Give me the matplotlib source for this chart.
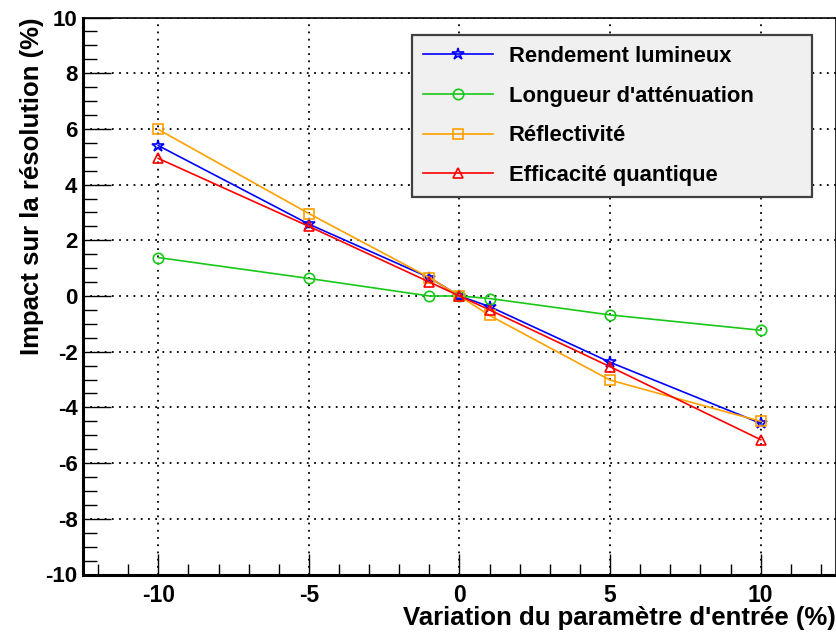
import matplotlib.pyplot as plt
from matplotlib.ticker import MultipleLocator

plt.rcParams['font.family'] = ['Liberation Sans', 'DejaVu Sans']
plt.rcParams['font.weight'] = 'bold'
plt.rcParams['axes.unicode_minus'] = False

# variation of input parameter (%)
variation = [-10, -5, -1, 0, 1, 5, 10]

# impact on resolution (%) for each parameter
rendement = [5.40, 2.58, 0.66, 0.0, -0.38, -2.38, -4.57]
attenuation = [1.38, 0.63, 0.0, 0.0, -0.09, -0.68, -1.23]
reflectivite = [5.98, 2.96, 0.66, 0.0, -0.70, -3.02, -4.50]
efficacite = [4.94, 2.50, 0.50, 0.0, -0.50, -2.54, -5.16]

labels = ["Rendement lumineux", "Longueur d'atténuation", "Réflectivité", "Efficacité quantique"]
colors = ["#0000ff", "#18c818", "#ffa000", "#ff0000"]
markers = ["*", "o", "s", "^"]

fig = plt.figure(figsize=(8.37, 6.34), dpi=100)
ax = fig.add_axes([83/837, 1 - 574.5/634, (836 - 83)/837, (574.5 - 17.5)/634])

series = [rendement, attenuation, reflectivite, efficacite]
for vals, lab, col, mk in zip(series, labels, colors, markers):
    ms = 9 if mk == "*" else 7.5
    ax.plot(variation, vals, color=col, lw=1.2, marker=mk, ms=ms,
            markerfacecolor='none', markeredgecolor=col, markeredgewidth=1.2,
            label=lab)

ax.set_xlim(-12.5, 12.5)
ax.set_ylim(-10, 10)
ax.xaxis.set_major_locator(MultipleLocator(5))
ax.xaxis.set_minor_locator(MultipleLocator(1))
ax.yaxis.set_major_locator(MultipleLocator(2))
ax.yaxis.set_minor_locator(MultipleLocator(0.5))
ax.tick_params(which='both', direction='in', top=False, right=False)
ax.tick_params(axis='x', which='major', length=15, width=1, labelsize=16.5, pad=7)
ax.tick_params(axis='x', which='minor', length=8, width=1)
ax.tick_params(axis='y', which='major', length=20, width=1, labelsize=16, pad=4)
ax.tick_params(axis='y', which='minor', length=10, width=1)
ax.grid(True, which='major', color='black', linestyle=(0, (1, 3)), linewidth=1.3)

for side in ['left', 'bottom']:
    ax.spines[side].set_linewidth(2.2)
for side in ['top', 'right']:
    ax.spines[side].set_linewidth(1.2)

ax.set_xlabel("Variation du paramètre d'entrée (%)", fontsize=18.5, fontweight='bold')
ax.xaxis.set_label_coords(1.0, -(625 - 574.5) / 557)
ax.xaxis.label.set_horizontalalignment('right')
ax.xaxis.label.set_verticalalignment('baseline')
ax.set_ylabel("Impact sur la résolution (%)", fontsize=18.5, fontweight='bold')
ax.yaxis.set_label_coords(-0.068, 1.0)
ax.yaxis.label.set_verticalalignment('center')
ax.yaxis.label.set_horizontalalignment('right')

leg_x0 = (412 - 83) / 753
leg_y0 = 1 - (192 - 17.5) / 557
leg_w = (812 - 412) / 753
leg_h = (192 - 35) / 557
leg = ax.legend(loc='upper left', bbox_to_anchor=(leg_x0, leg_y0, leg_w, leg_h),
                mode='expand', frameon=True, fancybox=False,
                borderaxespad=0, handlelength=3.2, handletextpad=0.7,
                labelspacing=0.85, borderpad=0.5, prop={'weight': 'bold', 'size': 15.8})
leg.get_frame().set_facecolor('#f0f0f0')
leg.get_frame().set_edgecolor('#404040')
leg.get_frame().set_linewidth(1.6)
leg.get_frame().set_alpha(1)

fig.savefig("out.png", dpi=100)
